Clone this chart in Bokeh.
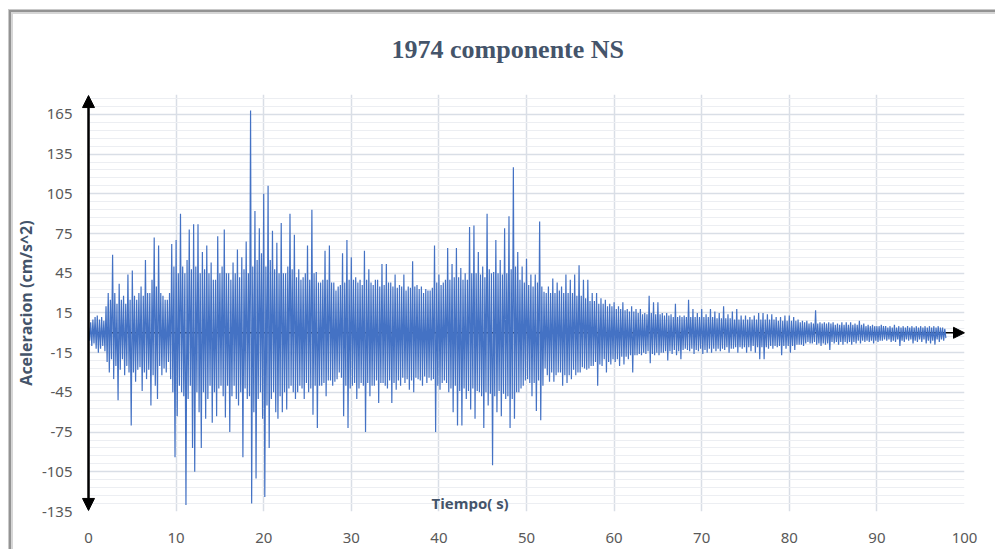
import numpy as np
from bokeh.plotting import figure
from bokeh.models import (Range1d, FixedTicker, Label, Arrow, NormalHead,
                          ColumnDataSource, BoxAnnotation, PrintfTickFormatter)
from bokeh.embed import file_html
from bokeh.resources import INLINE

# ---------------- data ----------------
title_text = "1974  componente NS"
y_label_text = "Aceleracion (cm/s^2)"
x_label_text = "Tiempo( s)"
x_ticks = list(range(0, 101, 10))
y_ticks = list(range(-135, 166, 30))
y_minor = [v for v in range(-135, 181, 6) if (v + 135) % 30 != 0]
dt = 0.125  # seconds between the values below (alternating peaks)

acc_00_10 = [4, -6, 8, -10, 10, -8, 12, -12,   13, -15, 10, -12, 12, -10, 9, -14,
             20, -22, 30, -30, 25, -20, 59, -35,  30, -25, 22, -51, 37, -28, 25, -20,
             28, -32, 22, -25, 44, -30, 25, -70,  47, -30, 28, -37, 25, -28, 30, -26,
             35, -44, 28, -30, 55, -35, 30, -28,  30, -55, 40, -32, 72, -40, 35, -50,
             66, -25, 30, -32, 28, -27, 25, -30,  25, -22, 30, -35, 67, -45, 50, -94]
acc_10_20 = [70, -63, 45, -40, 90, -45, 50, -48,  45, -130, 55, -50, 78, -40, 48, -87,
             82, -105, 50, -45, 82, -60, 45, -87, 61, -45, 48, -65, 66, -50, 45, -40,
             53, -68, 40, -45, 40, -63, 73, -42,  45, -40, 50, -48, 78, -64, 45, -40,
             45, -75, 40, -48, 53, -40, 45, -50,  63, -55, 42, -45, 57, -94, 48, -42,
             69, -50, 45, -48, 168, -129, 50, -60, 92, -110, 55, -50, 79, -45, 60, -65]
acc_20_30 = [105, -124, 50, -55, 111, -87, 55, -50, 77, -45, 48, -60, 68, -65, 45, -48,
             83, -60, 45, -45, 45, -58, 50, -42,  90, -40, 48, -45, 74, -50, 42, -45,
             48, -40, 40, -42, 42, -50, 45, -38,  66, -45, 40, -42, 93, -62, 45, -40,
             46, -72, 38, -40, 38, -40, 40, -38,  62, -48, 40, -36, 66, -36, 38, -40,
             38, -37, 32, -35, 35, -30, 36, -34,  60, -63, 38, -40, 70, -72, 40, -42]
acc_30_40 = [57, -40, 40, -38, 42, -50, 38, -42,  40, -38, 36, -40, 62, -75, 40, -38,
             48, -48, 38, -40, 36, -40, 40, -36,  40, -53, 35, -38, 52, -38, 36, -40,
             52, -42, 38, -36, 38, -53, 35, -38,  44, -43, 34, -36, 36, -40, 35, -34,
             44, -38, 32, -35, 35, -43, 34, -36,  54, -45, 35, -34, 36, -35, 33, -36,
             35, -40, 30, -33, 33, -38, 32, -34,  32, -36, 34, -35, 66, -75, 38, -40]
acc_40_50 = [44, -43, 36, -38, 38, -36, 40, -38,  64, -45, 40, -42, 52, -60, 42, -40,
             64, -70, 42, -44, 49, -70, 40, -42,  45, -50, 40, -44, 80, -58, 45, -42,
             81, -65, 45, -44, 61, -45, 44, -48,  50, -72, 42, -45, 90, -55, 48, -46,
             45, -100, 46, -48, 70, -60, 45, -44, 55, -63, 44, -46, 79, -50, 45, -48,
             88, -72, 48, -50, 125, -65, 50, -45, 61, -45, 40, -42, 50, -40, 38, -36]
acc_50_60 = [56, -35, 36, -38, 44, -48, 35, -38,  44, -59, 38, -36, 84, -66, 35, -40,
             31, -27, 30, -32, 35, -37, 30, -30,  41, -37, 30, -32, 38, -30, 32, -30,
             35, -40, 30, -32, 44, -38, 30, -32,  40, -35, 30, -28, 44, -32, 28, -30,
             51, -30, 28, -26, 40, -27, 26, -28,  40, -27, 24, -25, 30, -25, 24, -22,
             30, -40, 22, -24, 26, -25, 22, -20,  25, -30, 20, -22, 22, -24, 20, -20]
acc_60_70 = [23, -22, 18, -20, 20, -25, 18, -18,  23, -24, 17, -18, 18, -20, 16, -17,
             20, -30, 16, -17, 18, -17, 15, -16,  18, -17, 14, -15, 15, -16, 14, -14,
             28, -23, 15, -16, 23, -17, 14, -15,  23, -17, 14, -15, 15, -15, 13, -14,
             15, -21, 13, -14, 14, -16, 12, -13,  22, -17, 12, -14, 13, -20, 12, -13,
             13, -12, 12, -13, 25, -14, 12, -12,  18, -16, 12, -13, 15, -14, 12, -12]
acc_70_80 = [18, -16, 12, -13, 14, -15, 12, -12,  18, -15, 12, -12, 16, -14, 11, -12,
             15, -14, 11, -12, 20, -13, 11, -11,  14, -15, 11, -12, 16, -12, 10, -11,
             18, -15, 10, -11, 13, -12, 10, -11,  13, -15, 10, -11, 12, -14, 10, -10,
             13, -15, 10, -11, 15, -20, 10, -11,  15, -20, 10, -11, 14, -12, 10, -10,
             14, -12, 10, -10, 12, -11, 9, -10,   12, -17, 9, -10, 13, -12, 9, -10]
acc_80_90 = [13, -15, 9, -10, 12, -13, 9, -9,   10, -9, 8, -9, 9, -10, 8, -8,
             9, -7, 7, -8, 8, -8, 7, -7,        17, -9, 7, -8, 8, -10, 7, -8,
             8, -9, 7, -8, 8, -13, 7, -7,       8, -8, 6, -7, 7, -9, 6, -7,
             8, -9, 6, -7, 8, -8, 6, -7,        8, -9, 6, -7, 7, -8, 6, -6,
             9, -8, 6, -6, 7, -7, 5, -6,        6, -7, 5, -6, 6, -8, 5, -6]
acc_90_98 = [5, -7, 5, -6, 6, -6, 5, -5,        5, -6, 4, -5, 5, -7, 4, -6,
             6, -7, 4, -5, 5, -10, 4, -6,       5, -7, 4, -5, 5, -6, 4, -5,
             5, -8, 4, -6, 5, -7, 4, -5,        5, -7, 4, -5, 5, -8, 4, -6,
             5, -8, 4, -6, 5, -9, 4, -5,        5, -7, 4, -5, 4, -6, 3, -4]

acc = np.array(acc_00_10 + acc_10_20 + acc_20_30 + acc_30_40 + acc_40_50 +
               acc_50_60 + acc_60_70 + acc_70_80 + acc_80_90 + acc_90_98, dtype=float)
t = np.arange(len(acc)) * dt
src = ColumnDataSource(dict(t=t, a=acc))

# ---------------- figure ----------------
TXT = "#44546a"
TICK = "#595959"

p = figure(width=995, height=549, output_backend="svg", toolbar_location=None,
           x_range=Range1d(-0.8, 100), y_range=Range1d(-135, 180),
           min_border_left=81, min_border_right=31, min_border_top=94, min_border_bottom=38)
p.outline_line_color = None
p.background_fill_color = "white"
p.border_fill_color = None

# chart frame: top and left edges, drawn as CSS background of the plot element
p.styles = {"background": (
    "linear-gradient(#c9c9c9,#c9c9c9) 9px 9px / calc(100% - 9px) 1px no-repeat,"
    "linear-gradient(#939393,#939393) 9px 10px / calc(100% - 9px) 2px no-repeat,"
    "linear-gradient(#d6d6d6,#d6d6d6) 11px 12px / calc(100% - 11px) 2px no-repeat,"
    "linear-gradient(#c9c9c9,#c9c9c9) 8px 9px / 1px calc(100% - 9px) no-repeat,"
    "linear-gradient(#939393,#939393) 9px 10px / 2px calc(100% - 10px) no-repeat,"
    "linear-gradient(#d6d6d6,#d6d6d6) 11px 12px / 2px calc(100% - 12px) no-repeat,"
    "#ffffff")}

p.title.text = title_text
p.title.align = "left"
p.title.offset = 310
p.title.vertical_align = "bottom"
p.title.standoff = 62
p.title.text_font = "Liberation Serif"
p.title.text_font_style = "bold"
p.title.text_font_size = "26px"
p.title.text_color = TXT

p.xaxis.ticker = FixedTicker(ticks=x_ticks)
p.yaxis.ticker = FixedTicker(ticks=y_ticks, minor_ticks=y_minor)
p.yaxis.formatter = PrintfTickFormatter(format="%d")
for ax in (p.xaxis, p.yaxis):
    ax.axis_line_color = None
    ax.major_tick_line_color = None
    ax.minor_tick_line_color = None
    ax.major_label_text_font = "Noto Sans"
    ax.major_label_text_font_size = "15px"
    ax.major_label_text_color = TICK
p.xaxis.major_label_standoff = 15
p.yaxis.major_label_standoff = 3
p.yaxis.axis_label = y_label_text
p.yaxis.axis_label_standoff = 2
p.yaxis.axis_label_text_font = "Open Sans"
p.yaxis.axis_label_text_font_style = "bold"
p.yaxis.axis_label_text_font_size = "16px"
p.yaxis.axis_label_text_color = TXT

p.xgrid.grid_line_color = "#d9dee6"
p.xgrid.grid_line_width = 1.5
p.ygrid.grid_line_color = "#d9dee6"
p.ygrid.grid_line_width = 1.5
p.ygrid.minor_grid_line_color = "#eceef2"
p.ygrid.minor_grid_line_width = 1

# keep the strip left of the y axis clean (room for the arrow heads)
p.add_layout(BoxAnnotation(right=0, fill_color="white", fill_alpha=1,
                           line_color=None, level="underlay"))

# x axis arrow (under the signal)
p.add_layout(Arrow(end=NormalHead(size=11, fill_color="black", line_color="black"),
                   x_start=0, y_start=0, x_end=100, y_end=0,
                   line_color="black", line_width=1.5, level="underlay"))

p.line("t", "a", source=src, line_color="#4472c4", line_width=1.2)

# y axis double arrow
p.add_layout(Arrow(start=NormalHead(size=12, fill_color="black", line_color="black"),
                   end=NormalHead(size=12, fill_color="black", line_color="black"),
                   x_start=0, y_start=-134.2, x_end=0, y_end=179.2,
                   line_color="black", line_width=2.5))

p.add_layout(Label(x=39.16, y=-128.3, text=x_label_text, text_align="left",
                   text_baseline="alphabetic", text_font="Open Sans",
                   text_font_style="bold", text_font_size="15px", text_color=TXT))

open("out.html", "w").write(file_html(p, INLINE))
